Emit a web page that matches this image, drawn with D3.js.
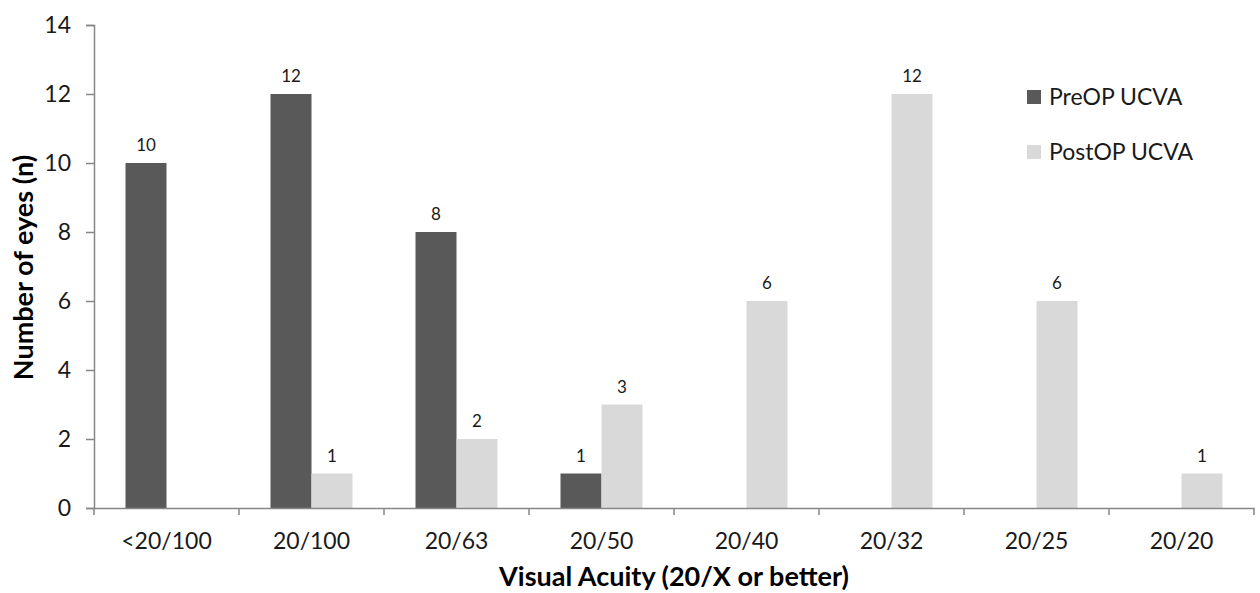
<!DOCTYPE html>
<html><head><meta charset="utf-8">
<script src="https://cdn.jsdelivr.net/npm/d3@7"></script>
<style>body{margin:0;background:#fff}svg{display:block}text{font-family:Lato,"Open Sans",sans-serif}</style>
</head><body><svg id="c" width="1260" height="593"></svg>
<script>
const categories = ["<20/100","20/100","20/63","20/50","20/40","20/32","20/25","20/20"];
const preOP  = [10,12,8,1,0,0,0,0];
const postOP = [0,1,2,3,6,12,6,1];
const seriesNames = ["PreOP UCVA","PostOP UCVA"];
const colors = ["#595959","#d9d9d9"];
const yTicks = [0,2,4,6,8,10,12,14];

(function(){
const svg = d3.select("#c");
const mLeft = 94, mRight = 1254, mTop = 25, mBottom = 508;
const x = d3.scaleBand().domain(categories).range([mLeft, mRight]);
const y = d3.scaleLinear().domain([0,14]).range([mBottom, mTop]);
const barW = 41;
const axisColor = "#868686";

// y axis
const ya = svg.append("g").attr("transform",`translate(${mLeft},0)`)
  .call(d3.axisLeft(y).tickValues(yTicks).tickSize(8).tickPadding(15));
ya.select(".domain").attr("stroke",axisColor).attr("stroke-width",1.5);
ya.selectAll(".tick line").attr("stroke",axisColor).attr("stroke-width",1.5);
ya.selectAll(".tick text").attr("font-size",23).attr("fill","#1a1a1a").attr("font-family","Lato");

// bars
const series = [preOP, postOP];
series.forEach((vals,si)=>{
  const g = svg.append("g");
  vals.forEach((v,i)=>{
    if(v<=0) return;
    const cx = x(categories[i]) + x.bandwidth()/2;
    const bx = si===0 ? cx - barW : cx;
    g.append("rect").attr("x",bx).attr("y",y(v)).attr("width",barW).attr("height",y(0)-y(v)).attr("fill",colors[si]);
    g.append("text").attr("x",bx+barW/2).attr("y",y(v)-12).attr("text-anchor","middle")
      .attr("font-size",17).attr("fill","#1a1a1a").text(v);
  });
});

// x axis
const xa = svg.append("g").attr("transform",`translate(0,${mBottom})`)
  .call(d3.axisBottom(x).tickSize(0).tickPadding(0));
xa.select(".domain").attr("stroke",axisColor).attr("stroke-width",1.5);
xa.selectAll(".tick text").attr("font-size",23).attr("fill","#1a1a1a").attr("dy",null).attr("y",41);
// category boundary ticks
const bounds = categories.map(c=>x(c)).concat([mRight]);
svg.append("g").selectAll("line").data(bounds).join("line")
  .attr("x1",d=>d).attr("x2",d=>d).attr("y1",mBottom).attr("y2",mBottom+7)
  .attr("stroke",axisColor).attr("stroke-width",1.5);

// axis titles
svg.append("text").attr("x",(mLeft+mRight)/2).attr("y",586).attr("text-anchor","middle")
  .attr("font-size",27).attr("font-weight","bold").attr("fill","#000").text("Visual Acuity (20/X or better)");
svg.append("text").attr("transform",`translate(33,${(mTop+mBottom)/2+1}) rotate(-90)`).attr("text-anchor","middle")
  .attr("font-size",27).attr("font-weight","bold").attr("fill","#000").text("Number of eyes (n)");

// legend
const lg = svg.append("g");
seriesNames.forEach((n,i)=>{
  const yy = 90 + i*55;
  lg.append("rect").attr("x",1027).attr("y",yy).attr("width",14).attr("height",14).attr("fill",colors[i]);
  lg.append("text").attr("x",1049).attr("y",yy+15).attr("font-size",23).attr("fill","#1a1a1a").text(n);
});
})();
</script></body></html>
